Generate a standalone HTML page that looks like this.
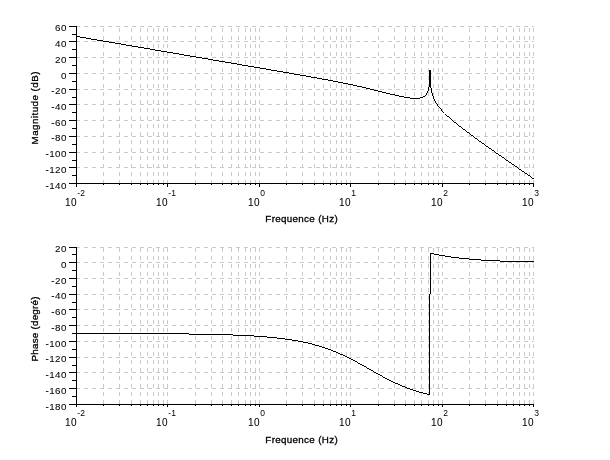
<!DOCTYPE html>
<html><head><meta charset="utf-8"><style>
html,body{margin:0;padding:0;background:#fff;}
svg{display:block;will-change:transform;}
</style></head><body>
<svg width="610" height="460" viewBox="0 0 610 460">
<rect width="610" height="460" fill="#fff"/>
<path fill="none" stroke="#cacaca" stroke-dasharray="4 4" shape-rendering="crispEdges" d="M76 26.5H534M76 41.5H534M76 57.5H534M76 73.5H534M76 89.5H534M76 104.5H534M76 120.5H534M76 136.5H534M76 152.5H534M76 167.5H534M76 183.5H534"/><path fill="none" stroke="#cacaca" stroke-dasharray="4 4" shape-rendering="crispEdges" d="M76.5 184V26M103.5 184V26M119.5 184V26M131.5 184V26M140.5 184V26M147.5 184V26M153.5 184V26M158.5 184V26M163.5 184V26M167.5 184V26M195.5 184V26M211.5 184V26M222.5 184V26M231.5 184V26M238.5 184V26M245.5 184V26M250.5 184V26M255.5 184V26M259.5 184V26M286.5 184V26M302.5 184V26M314.5 184V26M323.5 184V26M330.5 184V26M336.5 184V26M341.5 184V26M346.5 184V26M350.5 184V26M378.5 184V26M394.5 184V26M405.5 184V26M414.5 184V26M421.5 184V26M428.5 184V26M433.5 184V26M438.5 184V26M442.5 184V26M469.5 184V26M485.5 184V26M497.5 184V26M506.5 184V26M513.5 184V26M519.5 184V26M524.5 184V26M529.5 184V26M533.5 184V26"/><path fill="#000" shape-rendering="crispEdges" d="M76 36h4v1h-4zM80 37h6v1h-6zM86 38h5v1h-5zM91 39h6v1h-6zM97 40h6v1h-6zM103 41h6v1h-6zM109 42h6v1h-6zM115 43h6v1h-6zM121 44h5v1h-5zM126 45h6v1h-6zM132 46h6v1h-6zM138 47h6v1h-6zM144 48h6v1h-6zM150 49h5v1h-5zM155 50h6v1h-6zM161 51h6v1h-6zM167 52h6v1h-6zM173 53h6v1h-6zM179 54h5v1h-5zM184 55h6v1h-6zM190 56h6v1h-6zM196 57h6v1h-6zM202 58h6v1h-6zM208 59h5v1h-5zM213 60h6v1h-6zM219 61h6v1h-6zM225 62h6v1h-6zM231 63h6v1h-6zM237 64h5v1h-5zM242 65h6v1h-6zM248 66h6v1h-6zM254 67h6v1h-6zM260 68h6v1h-6zM266 69h5v1h-5zM271 70h6v1h-6zM429 70h2v1h-2zM277 71h6v1h-6zM429 71h2v1h-2zM283 72h6v1h-6zM429 72h2v1h-2zM289 73h5v1h-5zM429 73h2v1h-2zM294 74h6v1h-6zM429 74h2v1h-2zM300 75h6v1h-6zM429 75h2v1h-2zM306 76h5v1h-5zM429 76h2v1h-2zM311 77h6v1h-6zM429 77h2v1h-2zM317 78h5v1h-5zM429 78h2v1h-2zM322 79h6v1h-6zM429 79h2v1h-2zM328 80h5v1h-5zM429 80h2v1h-2zM333 81h5v1h-5zM429 81h2v1h-2zM338 82h5v1h-5zM429 82h2v1h-2zM343 83h5v1h-5zM429 83h2v1h-2zM348 84h5v1h-5zM429 84h2v1h-2zM353 85h4v1h-4zM429 85h2v1h-2zM357 86h5v1h-5zM429 86h2v1h-2zM362 87h4v1h-4zM428 87h1v1h-1zM430 87h1v1h-1zM366 88h4v1h-4zM428 88h1v1h-1zM431 88h1v1h-1zM370 89h4v1h-4zM428 89h1v1h-1zM431 89h1v1h-1zM374 90h4v1h-4zM428 90h1v1h-1zM431 90h1v1h-1zM378 91h4v1h-4zM427 91h1v1h-1zM431 91h1v1h-1zM382 92h4v1h-4zM427 92h1v1h-1zM431 92h1v1h-1zM386 93h4v1h-4zM426 93h1v1h-1zM432 93h1v1h-1zM390 94h5v1h-5zM426 94h1v1h-1zM432 94h1v1h-1zM395 95h4v1h-4zM425 95h1v1h-1zM432 95h1v1h-1zM399 96h5v1h-5zM423 96h2v1h-2zM433 96h1v1h-1zM404 97h6v1h-6zM420 97h3v1h-3zM433 97h1v1h-1zM410 98h10v1h-10zM433 98h1v1h-1zM434 99h1v1h-1zM434 100h1v1h-1zM435 101h1v1h-1zM435 102h1v1h-1zM436 103h1v1h-1zM437 104h1v1h-1zM437 105h1v1h-1zM438 106h1v1h-1zM439 107h1v1h-1zM440 108h1v1h-1zM441 109h1v1h-1zM441 110h1v1h-1zM442 111h1v1h-1zM443 112h1v1h-1zM445 114h1v1h-1zM446 115h1v1h-1zM447 116h2v1h-2zM449 117h1v1h-1zM450 118h1v1h-1zM451 119h1v1h-1zM452 120h1v1h-1zM453 121h1v1h-1zM454 122h2v1h-2zM456 123h1v1h-1zM457 124h1v1h-1zM458 125h1v1h-1zM459 126h2v1h-2zM461 127h1v1h-1zM462 128h1v1h-1zM463 129h2v1h-2zM465 130h1v1h-1zM466 131h1v1h-1zM467 132h2v1h-2zM469 133h1v1h-1zM470 134h1v1h-1zM471 135h2v1h-2zM473 136h1v1h-1zM474 137h1v1h-1zM475 138h2v1h-2zM477 139h1v1h-1zM478 140h1v1h-1zM479 141h2v1h-2zM481 142h1v1h-1zM482 143h2v1h-2zM484 144h1v1h-1zM485 145h1v1h-1zM486 146h2v1h-2zM488 147h1v1h-1zM489 148h2v1h-2zM491 149h1v1h-1zM492 150h2v1h-2zM494 151h1v1h-1zM495 152h1v1h-1zM496 153h2v1h-2zM498 154h1v1h-1zM499 155h2v1h-2zM501 156h1v1h-1zM502 157h2v1h-2zM504 158h1v1h-1zM505 159h1v1h-1zM506 160h2v1h-2zM508 161h1v1h-1zM509 162h2v1h-2zM511 163h1v1h-1zM512 164h2v1h-2zM514 165h1v1h-1zM515 166h2v1h-2zM517 167h1v1h-1zM518 168h1v1h-1zM519 169h2v1h-2zM521 170h1v1h-1zM522 171h2v1h-2zM524 172h1v1h-1zM525 173h2v1h-2zM527 174h1v1h-1zM528 175h2v1h-2zM530 176h1v1h-1zM531 177h1v1h-1zM532 178h2v1h-2z"/><path fill="none" stroke="#000" shape-rendering="crispEdges" d="M76.5 26V184M76 183.5H534M69 26.5H76M69 41.5H76M69 57.5H76M69 73.5H76M69 89.5H76M69 104.5H76M69 120.5H76M69 136.5H76M69 152.5H76M69 167.5H76M69 183.5H76M72 34.5H76M72 49.5H76M72 65.5H76M72 81.5H76M72 97.5H76M72 112.5H76M72 128.5H76M72 144.5H76M72 160.5H76M72 175.5H76M76.5 184V187M103.5 184V185M119.5 184V185M131.5 184V185M140.5 184V185M147.5 184V185M153.5 184V185M158.5 184V185M163.5 184V185M167.5 184V187M195.5 184V185M211.5 184V185M222.5 184V185M231.5 184V185M238.5 184V185M245.5 184V185M250.5 184V185M255.5 184V185M259.5 184V187M286.5 184V185M302.5 184V185M314.5 184V185M323.5 184V185M330.5 184V185M336.5 184V185M341.5 184V185M346.5 184V185M350.5 184V187M378.5 184V185M394.5 184V185M405.5 184V185M414.5 184V185M421.5 184V185M428.5 184V185M433.5 184V185M438.5 184V185M442.5 184V187M469.5 184V185M485.5 184V185M497.5 184V185M506.5 184V185M513.5 184V185M519.5 184V185M524.5 184V185M529.5 184V185M533.5 184V187"/><g font-family="'Liberation Sans', sans-serif" font-size="9.8" fill="#000" stroke="#000" stroke-width="0.05"><text x="67" y="31.30" text-anchor="end" letter-spacing="0.5">60</text><text x="67" y="47.04" text-anchor="end" letter-spacing="0.5">40</text><text x="67" y="62.78" text-anchor="end" letter-spacing="0.5">20</text><text x="67" y="78.53" text-anchor="end" letter-spacing="0.5">0</text><text x="67" y="94.27" text-anchor="end" letter-spacing="0.5">-20</text><text x="67" y="110.01" text-anchor="end" letter-spacing="0.5">-40</text><text x="67" y="125.75" text-anchor="end" letter-spacing="0.5">-60</text><text x="67" y="141.49" text-anchor="end" letter-spacing="0.5">-80</text><text x="67" y="157.24" text-anchor="end" letter-spacing="0.5">-100</text><text x="67" y="172.98" text-anchor="end" letter-spacing="0.5">-120</text><text x="67" y="188.72" text-anchor="end" letter-spacing="0.5">-140</text><text x="76.9" y="206" text-anchor="end" letter-spacing="0.4" font-size="10">10</text><text x="167.9" y="206" text-anchor="end" letter-spacing="0.4" font-size="10">10</text><text x="259.9" y="206" text-anchor="end" letter-spacing="0.4" font-size="10">10</text><text x="350.9" y="206" text-anchor="end" letter-spacing="0.4" font-size="10">10</text><text x="442.9" y="206" text-anchor="end" letter-spacing="0.4" font-size="10">10</text><text x="533.9" y="206" text-anchor="end" letter-spacing="0.4" font-size="10">10</text></g><g font-family="'Liberation Sans', sans-serif" font-size="8.5" fill="#000"><text x="77.3" y="195.7">-2</text><text x="168.3" y="195.7">-1</text><text x="260.3" y="195.7">0</text><text x="351.3" y="195.7">1</text><text x="443.3" y="195.7">2</text><text x="534.3" y="195.7">3</text></g><text x="0" y="0" transform="translate(38.3 108) rotate(-90)" text-anchor="middle" font-family="'Liberation Sans', sans-serif" font-size="9.8" stroke="#000" stroke-width="0.3" textLength="73" lengthAdjust="spacing">Magnitude (dB)</text><text x="301.5" y="222" text-anchor="middle" font-family="'Liberation Sans', sans-serif" font-size="9.8" stroke="#000" stroke-width="0.3" textLength="72.3" lengthAdjust="spacing">Frequence (Hz)</text><path fill="none" stroke="#cacaca" stroke-dasharray="4 4" shape-rendering="crispEdges" d="M76 247.5H534M76 262.5H534M76 278.5H534M76 294.5H534M76 309.5H534M76 325.5H534M76 341.5H534M76 357.5H534M76 372.5H534M76 388.5H534M76 404.5H534"/><path fill="none" stroke="#cacaca" stroke-dasharray="4 4" shape-rendering="crispEdges" d="M76.5 404V247M103.5 404V247M119.5 404V247M131.5 404V247M140.5 404V247M147.5 404V247M153.5 404V247M158.5 404V247M163.5 404V247M167.5 404V247M195.5 404V247M211.5 404V247M222.5 404V247M231.5 404V247M238.5 404V247M245.5 404V247M250.5 404V247M255.5 404V247M259.5 404V247M286.5 404V247M302.5 404V247M314.5 404V247M323.5 404V247M330.5 404V247M336.5 404V247M341.5 404V247M346.5 404V247M350.5 404V247M378.5 404V247M394.5 404V247M405.5 404V247M414.5 404V247M421.5 404V247M428.5 404V247M433.5 404V247M438.5 404V247M442.5 404V247M469.5 404V247M485.5 404V247M497.5 404V247M506.5 404V247M513.5 404V247M519.5 404V247M524.5 404V247M529.5 404V247M533.5 404V247"/><path fill="#000" shape-rendering="crispEdges" d="M430 253h4v1h-4zM430 254h1v1h-1zM434 254h5v1h-5zM430 255h1v1h-1zM439 255h6v1h-6zM430 256h1v1h-1zM445 256h6v1h-6zM430 257h1v1h-1zM451 257h8v1h-8zM430 258h1v1h-1zM459 258h10v1h-10zM430 259h1v1h-1zM469 259h12v1h-12zM430 260h1v1h-1zM481 260h19v1h-19zM430 261h1v1h-1zM500 261h34v1h-34zM430 262h1v1h-1zM430 263h1v1h-1zM430 264h1v1h-1zM430 265h1v1h-1zM430 266h1v1h-1zM430 267h1v1h-1zM430 268h1v1h-1zM430 269h1v1h-1zM430 270h1v1h-1zM430 271h1v1h-1zM430 272h1v1h-1zM430 273h1v1h-1zM430 274h1v1h-1zM430 275h1v1h-1zM430 276h1v1h-1zM430 277h1v1h-1zM430 278h1v1h-1zM430 279h1v1h-1zM430 280h1v1h-1zM430 281h1v1h-1zM430 282h1v1h-1zM430 283h1v1h-1zM430 284h1v1h-1zM430 285h1v1h-1zM430 286h1v1h-1zM430 287h1v1h-1zM430 288h1v1h-1zM430 289h1v1h-1zM430 290h1v1h-1zM430 291h1v1h-1zM430 292h1v1h-1zM430 293h1v1h-1zM429 294h1v1h-1zM429 295h1v1h-1zM429 296h1v1h-1zM429 297h1v1h-1zM429 298h1v1h-1zM429 299h1v1h-1zM429 300h1v1h-1zM429 301h1v1h-1zM429 302h1v1h-1zM429 303h1v1h-1zM429 304h1v1h-1zM429 305h1v1h-1zM429 306h1v1h-1zM429 307h1v1h-1zM429 308h1v1h-1zM429 309h1v1h-1zM429 310h1v1h-1zM429 311h1v1h-1zM429 312h1v1h-1zM429 313h1v1h-1zM429 314h1v1h-1zM429 315h1v1h-1zM429 316h1v1h-1zM429 317h1v1h-1zM429 318h1v1h-1zM429 319h1v1h-1zM429 320h1v1h-1zM429 321h1v1h-1zM429 322h1v1h-1zM429 323h1v1h-1zM429 324h1v1h-1zM429 325h1v1h-1zM429 326h1v1h-1zM429 327h1v1h-1zM429 328h1v1h-1zM429 329h1v1h-1zM429 330h1v1h-1zM429 331h1v1h-1zM429 332h1v1h-1zM76 333h113v1h-113zM429 333h1v1h-1zM189 334h44v1h-44zM429 334h1v1h-1zM233 335h21v1h-21zM429 335h1v1h-1zM254 336h13v1h-13zM429 336h1v1h-1zM267 337h10v1h-10zM429 337h1v1h-1zM277 338h8v1h-8zM429 338h1v1h-1zM285 339h7v1h-7zM429 339h1v1h-1zM292 340h6v1h-6zM429 340h1v1h-1zM298 341h5v1h-5zM429 341h1v1h-1zM303 342h5v1h-5zM429 342h1v1h-1zM308 343h4v1h-4zM429 343h1v1h-1zM312 344h3v1h-3zM429 344h1v1h-1zM315 345h4v1h-4zM429 345h1v1h-1zM319 346h3v1h-3zM429 346h1v1h-1zM322 347h3v1h-3zM429 347h1v1h-1zM325 348h3v1h-3zM429 348h1v1h-1zM328 349h3v1h-3zM429 349h1v1h-1zM331 350h2v1h-2zM429 350h1v1h-1zM333 351h3v1h-3zM429 351h1v1h-1zM336 352h2v1h-2zM429 352h1v1h-1zM338 353h2v1h-2zM429 353h1v1h-1zM340 354h3v1h-3zM429 354h1v1h-1zM343 355h2v1h-2zM429 355h1v1h-1zM345 356h2v1h-2zM429 356h1v1h-1zM347 357h2v1h-2zM429 357h1v1h-1zM349 358h2v1h-2zM429 358h1v1h-1zM351 359h2v1h-2zM429 359h1v1h-1zM353 360h2v1h-2zM429 360h1v1h-1zM355 361h2v1h-2zM429 361h1v1h-1zM357 362h1v1h-1zM429 362h1v1h-1zM358 363h2v1h-2zM429 363h1v1h-1zM360 364h2v1h-2zM429 364h1v1h-1zM362 365h2v1h-2zM429 365h1v1h-1zM364 366h2v1h-2zM429 366h1v1h-1zM366 367h1v1h-1zM429 367h1v1h-1zM367 368h2v1h-2zM429 368h1v1h-1zM369 369h2v1h-2zM429 369h1v1h-1zM371 370h2v1h-2zM429 370h1v1h-1zM373 371h1v1h-1zM429 371h1v1h-1zM374 372h2v1h-2zM429 372h1v1h-1zM376 373h2v1h-2zM429 373h1v1h-1zM378 374h2v1h-2zM429 374h1v1h-1zM380 375h2v1h-2zM429 375h1v1h-1zM382 376h1v1h-1zM429 376h1v1h-1zM383 377h2v1h-2zM429 377h1v1h-1zM385 378h2v1h-2zM429 378h1v1h-1zM387 379h2v1h-2zM429 379h1v1h-1zM389 380h2v1h-2zM429 380h1v1h-1zM391 381h2v1h-2zM429 381h1v1h-1zM393 382h2v1h-2zM429 382h1v1h-1zM395 383h3v1h-3zM429 383h1v1h-1zM398 384h2v1h-2zM429 384h1v1h-1zM400 385h2v1h-2zM429 385h1v1h-1zM402 386h3v1h-3zM429 386h1v1h-1zM405 387h2v1h-2zM429 387h1v1h-1zM407 388h3v1h-3zM429 388h1v1h-1zM410 389h3v1h-3zM429 389h1v1h-1zM413 390h3v1h-3zM429 390h1v1h-1zM416 391h3v1h-3zM429 391h1v1h-1zM419 392h4v1h-4zM429 392h1v1h-1zM423 393h4v1h-4zM429 393h1v1h-1zM427 394h3v1h-3z"/><path fill="none" stroke="#000" shape-rendering="crispEdges" d="M76.5 247V405M76 404.5H534M69 247.5H76M69 262.5H76M69 278.5H76M69 294.5H76M69 309.5H76M69 325.5H76M69 341.5H76M69 357.5H76M69 372.5H76M69 388.5H76M69 404.5H76M72 254.5H76M72 270.5H76M72 286.5H76M72 302.5H76M72 317.5H76M72 333.5H76M72 349.5H76M72 365.5H76M72 380.5H76M72 396.5H76M76.5 405V407M103.5 405V406M119.5 405V406M131.5 405V406M140.5 405V406M147.5 405V406M153.5 405V406M158.5 405V406M163.5 405V406M167.5 405V407M195.5 405V406M211.5 405V406M222.5 405V406M231.5 405V406M238.5 405V406M245.5 405V406M250.5 405V406M255.5 405V406M259.5 405V407M286.5 405V406M302.5 405V406M314.5 405V406M323.5 405V406M330.5 405V406M336.5 405V406M341.5 405V406M346.5 405V406M350.5 405V407M378.5 405V406M394.5 405V406M405.5 405V406M414.5 405V406M421.5 405V406M428.5 405V406M433.5 405V406M438.5 405V406M442.5 405V407M469.5 405V406M485.5 405V406M497.5 405V406M506.5 405V406M513.5 405V406M519.5 405V406M524.5 405V406M529.5 405V406M533.5 405V407"/><g font-family="'Liberation Sans', sans-serif" font-size="9.8" fill="#000" stroke="#000" stroke-width="0.05"><text x="67" y="252.10" text-anchor="end" letter-spacing="0.5">20</text><text x="67" y="267.84" text-anchor="end" letter-spacing="0.5">0</text><text x="67" y="283.58" text-anchor="end" letter-spacing="0.5">-20</text><text x="67" y="299.33" text-anchor="end" letter-spacing="0.5">-40</text><text x="67" y="315.07" text-anchor="end" letter-spacing="0.5">-60</text><text x="67" y="330.81" text-anchor="end" letter-spacing="0.5">-80</text><text x="67" y="346.55" text-anchor="end" letter-spacing="0.5">-100</text><text x="67" y="362.29" text-anchor="end" letter-spacing="0.5">-120</text><text x="67" y="378.04" text-anchor="end" letter-spacing="0.5">-140</text><text x="67" y="393.78" text-anchor="end" letter-spacing="0.5">-160</text><text x="67" y="409.52" text-anchor="end" letter-spacing="0.5">-180</text><text x="76.9" y="426" text-anchor="end" letter-spacing="0.4" font-size="10">10</text><text x="167.9" y="426" text-anchor="end" letter-spacing="0.4" font-size="10">10</text><text x="259.9" y="426" text-anchor="end" letter-spacing="0.4" font-size="10">10</text><text x="350.9" y="426" text-anchor="end" letter-spacing="0.4" font-size="10">10</text><text x="442.9" y="426" text-anchor="end" letter-spacing="0.4" font-size="10">10</text><text x="533.9" y="426" text-anchor="end" letter-spacing="0.4" font-size="10">10</text></g><g font-family="'Liberation Sans', sans-serif" font-size="8.5" fill="#000"><text x="77.3" y="415.7">-2</text><text x="168.3" y="415.7">-1</text><text x="260.3" y="415.7">0</text><text x="351.3" y="415.7">1</text><text x="443.3" y="415.7">2</text><text x="534.3" y="415.7">3</text></g><text x="0" y="0" transform="translate(38.3 329) rotate(-90)" text-anchor="middle" font-family="'Liberation Sans', sans-serif" font-size="9.8" stroke="#000" stroke-width="0.3" textLength="65" lengthAdjust="spacing">Phase (degré)</text><text x="301.5" y="443" text-anchor="middle" font-family="'Liberation Sans', sans-serif" font-size="9.8" stroke="#000" stroke-width="0.3" textLength="72.3" lengthAdjust="spacing">Frequence (Hz)</text>
</svg></body></html>
